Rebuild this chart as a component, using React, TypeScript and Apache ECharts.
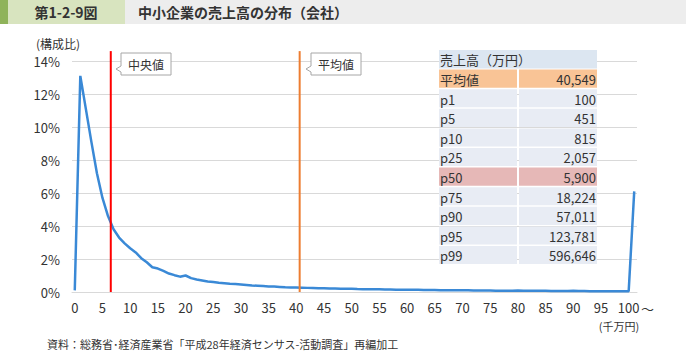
import React, { useEffect, useRef } from "react";
import * as echarts from "echarts";

const FONT = "'Noto Sans CJK JP', 'Noto Sans', sans-serif";

// x categories (千万円), last one is the open-ended class
const categories: string[] = Array.from({ length: 102 }, (_, i) => String(i));

// share of companies (%) per class
const shares: number[] = [
  0.1, 13.1, 11.1, 9.1, 7.2, 5.7, 4.6, 3.8, 3.3, 2.95,
  2.65, 2.4, 2.05, 1.8, 1.5, 1.42, 1.28, 1.12, 1.02, 0.93,
  1.0, 0.84, 0.76, 0.7, 0.64, 0.6, 0.56, 0.53, 0.5, 0.48,
  0.46, 0.43, 0.4, 0.38, 0.36, 0.34, 0.33, 0.31, 0.29, 0.28,
  0.27, 0.26, 0.25, 0.24, 0.23, 0.22, 0.21, 0.21, 0.2, 0.19,
  0.2, 0.18, 0.17, 0.17, 0.16, 0.16, 0.15, 0.15, 0.14, 0.14,
  0.14, 0.13, 0.13, 0.12, 0.12, 0.12, 0.11, 0.11, 0.1, 0.1,
  0.11, 0.1, 0.09, 0.09, 0.09, 0.09, 0.08, 0.08, 0.08, 0.08,
  0.09, 0.07, 0.07, 0.07, 0.07, 0.07, 0.06, 0.06, 0.06, 0.06,
  0.07, 0.06, 0.06, 0.05, 0.05, 0.05, 0.05, 0.05, 0.05, 0.05,
  0.05, 6.1,
];

// reference lines (千万円)
const medianPos = 6.5;
const meanPos = 40.6;
const refLineTop = 14.6;

const yTicks = { min: 0, max: 14, interval: 2 };

const tableHeader = "売上高（万円）";
const tableLabels: string[] = ["平均値", "p1", "p5", "p10", "p25", "p50", "p75", "p90", "p95", "p99"];
const tableValues: string[] = ["40,549", "100", "451", "815", "2,057", "5,900", "18,224", "57,011", "123,781", "596,646"];

export default function App() {
  const ref = useRef<HTMLDivElement>(null);

  useEffect(() => {
    if (!ref.current) return;
    const chart = echarts.init(ref.current, undefined, { renderer: "svg" });

    const tX0 = 439, tXs = 518, tX1 = 597, tTop = 50, rowH = 19.6;
    const rects: any[] = [];
    const texts: any[] = [];
    rects.push({
      type: "rect",
      z: 50,
      shape: { x: tX0, y: tTop, width: tX1 - tX0, height: rowH - 1 },
      style: { fill: "#dce6f1" },
    });
    texts.push({
      type: "text",
      z: 60,
      x: tX0 + 1,
      y: tTop + rowH / 2,
      style: { text: tableHeader, font: `13px ${FONT}`, fill: "#333", verticalAlign: "middle" },
    });
    tableLabels.forEach((lab, i) => {
      const y = tTop + rowH * (i + 1);
      const fill = lab === "平均値" ? "#f9c496" : lab === "p50" ? "#e6b8b7" : "#e8ecf4";
      rects.push({
        type: "rect",
        z: 50,
        shape: { x: tX0, y, width: tXs - tX0 - 1, height: rowH - 1.5 },
        style: { fill },
      });
      rects.push({
        type: "rect",
        z: 50,
        shape: { x: tXs + 1, y, width: tX1 - tXs - 1, height: rowH - 1.5 },
        style: { fill },
      });
      texts.push({
        type: "text",
        z: 60,
        x: tX0 + 1,
        y: y + rowH / 2,
        style: { text: lab, font: `13px ${FONT}`, fill: "#333", verticalAlign: "middle" },
      });
      texts.push({
        type: "text",
        z: 60,
        x: tX1 - 1,
        y: y + rowH / 2,
        style: { text: tableValues[i], font: `13px ${FONT}`, fill: "#333", align: "right", verticalAlign: "middle" },
      });
    });

    const callout = (x: number, text: string) => [
      {
        type: "polygon",
        z: 100,
        shape: {
          points: [
            [x, 53], [x + 50, 53], [x + 50, 75], [x, 75], [x, 72], [x - 5, 69], [x, 66],
          ],
        },
        style: { fill: "#fff", stroke: "#a6a6a6", lineWidth: 1 },
      },
      {
        type: "text",
        z: 101,
        x: x + 25,
        y: 64,
        style: { text, font: `12px ${FONT}`, fill: "#333", align: "center", verticalAlign: "middle" },
      },
    ];

    chart.setOption({
      animation: false,
      backgroundColor: "#ffffff",
      grid: { left: 72, right: 49, top: 61, bottom: 60 },
      xAxis: [
        {
          type: "category",
          data: categories,
          boundaryGap: true,
          axisLine: { show: true, lineStyle: { color: "#d9d9d9", width: 1 } },
          axisTick: { show: false },
          axisLabel: {
            interval: (idx: number) => idx % 5 === 0 && idx <= 100,
            color: "#333",
            fontSize: 13,
            fontFamily: FONT,
            margin: 9,
          },
          splitLine: { show: false },
        },
        {
          type: "value",
          min: -0.5,
          max: 101.5,
          show: false,
        },
      ],
      yAxis: {
        type: "value",
        min: yTicks.min,
        max: yTicks.max,
        interval: yTicks.interval,
        axisLine: { show: false },
        axisTick: { show: false },
        axisLabel: { formatter: "{value}%", color: "#333", fontSize: 13, fontFamily: FONT, margin: 12 },
        splitLine: { lineStyle: { color: "#d9d9d9", width: 1 } },
      },
      series: [
        {
          type: "line",
          data: shares,
          symbol: "none",
          lineStyle: { color: "#3a89d6", width: 2.5 },
          z: 3,
        },
        {
          type: "line",
          xAxisIndex: 1,
          data: [[medianPos, 0], [medianPos, refLineTop]],
          symbol: "none",
          clip: false,
          lineStyle: { color: "#ff0000", width: 2 },
          z: 4,
        },
        {
          type: "line",
          xAxisIndex: 1,
          data: [[meanPos, 0], [meanPos, refLineTop]],
          symbol: "none",
          clip: false,
          lineStyle: { color: "#ed7d31", width: 2 },
          z: 4,
        },
      ],
      graphic: [
        { type: "rect", z: 50, shape: { x: 0, y: 0, width: 8, height: 24 }, style: { fill: "#8fb35a" } },
        { type: "rect", z: 50, shape: { x: 8, y: 0, width: 117, height: 24 }, style: { fill: "#d8e4bf" } },
        { type: "rect", z: 50, shape: { x: 125, y: 0, width: 561, height: 24 }, style: { fill: "#ededed" } },
        {
          type: "text", z: 60, x: 66, y: 12,
          style: { text: "第1-2-9図", font: `bold 14px ${FONT}`, fill: "#333", align: "center", verticalAlign: "middle" },
        },
        {
          type: "text", z: 60, x: 138, y: 12,
          style: { text: "中小企業の売上高の分布（会社）", font: `bold 14px ${FONT}`, fill: "#333", verticalAlign: "middle" },
        },
        {
          type: "text", z: 60, x: 36, y: 43,
          style: { text: "(構成比)", font: `12px ${FONT}`, fill: "#333", verticalAlign: "middle" },
        },
        {
          type: "text", z: 60, x: 641, y: 308,
          style: { text: "～", font: `13px ${FONT}`, fill: "#333", verticalAlign: "middle" },
        },
        {
          type: "text", z: 60, x: 619, y: 326,
          style: { text: "(千万円)", font: `11px ${FONT}`, fill: "#333", align: "center", verticalAlign: "middle" },
        },
        {
          type: "text", z: 60, x: 47, y: 344,
          style: { text: "資料：総務省･経済産業省「平成28年経済センサス-活動調査」再編加工", font: `11px ${FONT}`, fill: "#333", verticalAlign: "middle" },
        },
        ...callout(121, "中央値"),
        ...callout(311, "平均値"),
        ...rects,
        ...texts,
      ],
    });

    return () => chart.dispose();
  }, []);

  return (
    <div
      ref={ref}
      style={{ position: "absolute", left: 0, top: 0, width: 686, height: 352, background: "#fff" }}
    />
  );
}
